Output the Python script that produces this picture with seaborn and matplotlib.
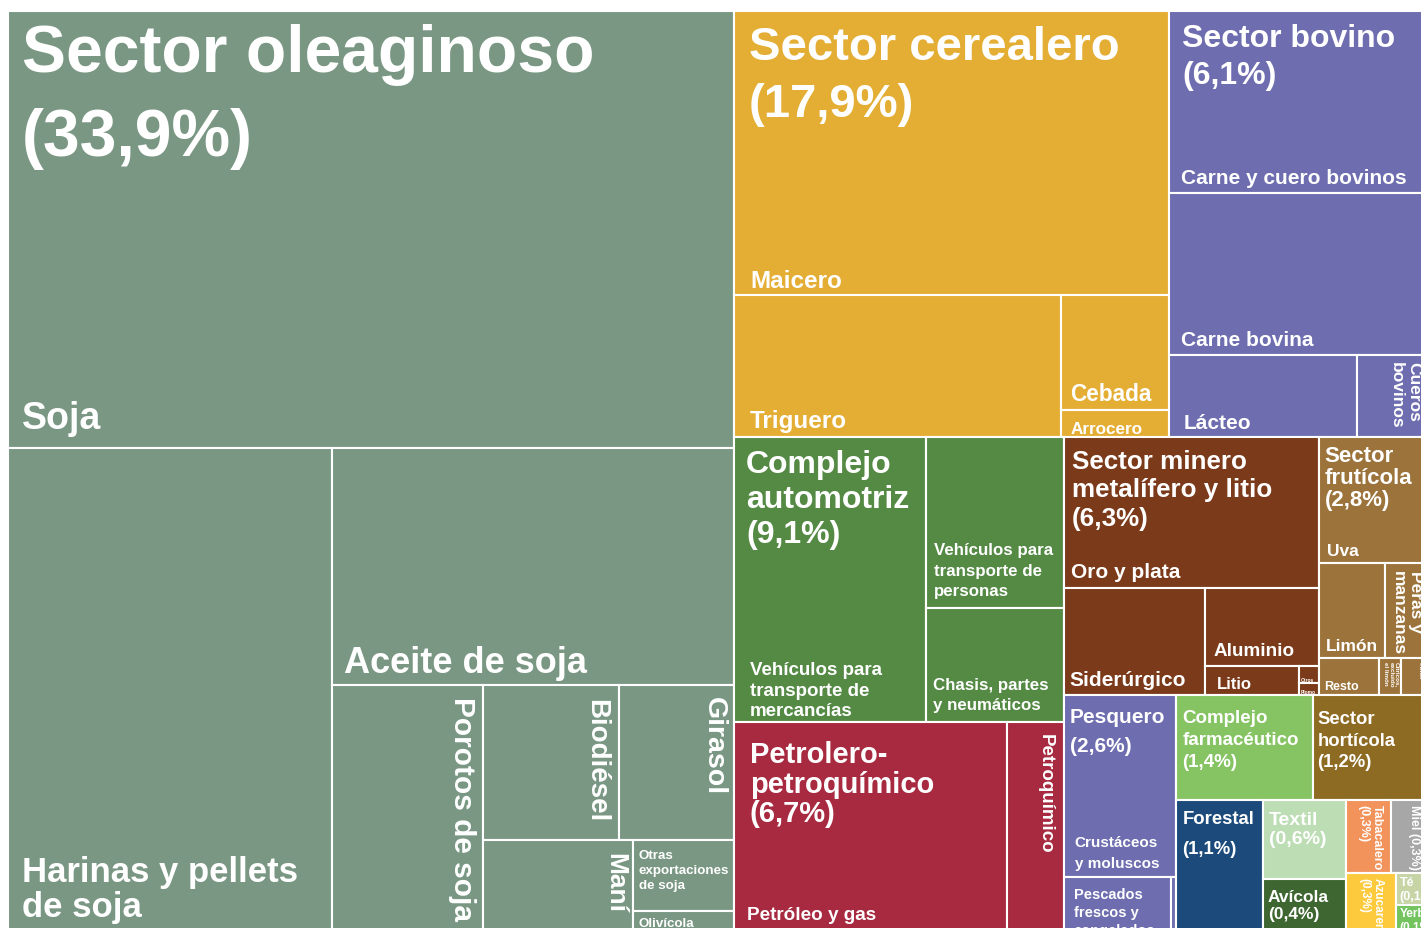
import numpy as np
import pandas as pd
import matplotlib
matplotlib.use('Agg')
import matplotlib.pyplot as plt
import seaborn as sns

# Sectores exportadores: nombre, participación y color
sectores = ['Sector oleaginoso', 'Sector cerealero', 'Sector bovino', 'Complejo automotriz',
            'Petrolero-petroquímico', 'Sector minero metalífero y litio', 'Sector frutícola',
            'Pesquero', 'Complejo farmacéutico', 'Sector hortícola', 'Forestal', 'Textil',
            'Avícola', 'Tabacalero', 'Miel', 'Azucarero', 'Té', 'Yerba']
participacion = ['33,9%', '17,9%', '6,1%', '9,1%', '6,7%', '6,3%', '2,8%', '2,6%', '1,4%',
                 '1,2%', '1,1%', '0,6%', '0,4%', '0,3%', '0,3%', '0,3%', '0,1%', '0,1%']
colores = ['#7A9784', '#E4AD33', '#6E6DAF', '#558A45', '#A72A40', '#7B3A19', '#9C733A',
           '#6E6DAF', '#86C463', '#8E6B22', '#1B4A7B', '#BDDDB4', '#3E6630', '#F2935B',
           '#A7A7A7', '#FCCA3C', '#C6D4A6', '#73C35F']

hojas = ['Soja', 'Harinas y pellets de soja', 'Aceite de soja', 'Porotos de soja', 'Biodiésel',
         'Girasol', 'Maní', 'Otras exportaciones de soja', 'Olivícola',
         'Maicero', 'Triguero', 'Cebada', 'Arrocero',
         'Carne y cuero bovinos', 'Carne bovina', 'Lácteo', 'Cueros bovinos',
         'Vehículos para transporte de mercancías', 'Vehículos para transporte de personas',
         'Chasis, partes y neumáticos',
         'Petróleo y gas', 'Petroquímico',
         'Oro y plata', 'Siderúrgico', 'Aluminio', 'Litio', 'Otros', 'Plomo',
         'Uva', 'Limón', 'Peras y manzanas', 'Resto', 'Cítricos, excluido el limón', 'Otras frutas',
         'Crustáceos y moluscos', 'Pescados frescos y congelados', 'Otros pesqueros',
         'Complejo farmacéutico', 'Sector hortícola', 'Forestal', 'Textil', 'Avícola',
         'Tabacalero', 'Miel', 'Azucarero', 'Té', 'Yerba']
valores = [30.86, 15.22, 9.27, 3.61, 2.05, 1.73, 1.33, 0.70, 0.20,
           12.02, 4.52, 1.21, 0.28,
           4.62, 4.11, 1.50, 0.58,
           5.32, 2.30, 1.53,
           5.55, 1.16,
           3.75, 1.47, 0.86, 0.265, 0.033, 0.023,
           1.36, 0.61, 0.42, 0.22, 0.079, 0.104,
           1.98, 0.56, 0.026,
           1.40, 1.20, 1.11, 0.64, 0.42,
           0.32, 0.28, 0.28, 0.106, 0.086]
sector_hoja = [0] * 9 + [1] * 4 + [2] * 4 + [3] * 3 + [4] * 2 + [5] * 6 + [6] * 6 + [7] * 3 + \
              [8, 9, 10, 11, 12, 13, 14, 15, 16, 17]

# estructura del treemap: 'h' reparte a lo ancho, 'v' reparte a lo alto
arbol = ('h', [
    ('v', ['Soja',
           ('h', ['Harinas y pellets de soja',
                  ('v', ['Aceite de soja',
                         ('h', ['Porotos de soja',
                                ('v', [('h', ['Biodiésel', 'Girasol']),
                                       ('h', ['Maní', ('v', ['Otras exportaciones de soja', 'Olivícola'])])])])])])]),
    ('v', [
        ('h', [
            ('v', ['Maicero', ('h', ['Triguero', ('v', ['Cebada', 'Arrocero'])])]),
            ('v', ['Carne y cuero bovinos', 'Carne bovina', ('h', ['Lácteo', 'Cueros bovinos'])]),
        ]),
        ('h', [
            ('v', [
                ('h', ['Vehículos para transporte de mercancías',
                       ('v', ['Vehículos para transporte de personas', 'Chasis, partes y neumáticos'])]),
                ('h', ['Petróleo y gas', 'Petroquímico']),
            ]),
            ('v', [
                ('h', [
                    ('v', ['Oro y plata',
                           ('h', ['Siderúrgico',
                                  ('v', ['Aluminio', ('h', ['Litio', ('v', ['Otros', 'Plomo'])])])])]),
                    ('v', ['Uva', ('h', ['Limón', 'Peras y manzanas']),
                           ('h', ['Resto', 'Cítricos, excluido el limón', 'Otras frutas'])]),
                ]),
                ('h', [
                    ('v', ['Crustáceos y moluscos', ('h', ['Pescados frescos y congelados', 'Otros pesqueros'])]),
                    ('v', [
                        ('h', ['Complejo farmacéutico', 'Sector hortícola']),
                        ('h', ['Forestal', ('v', ['Textil', 'Avícola']),
                               ('v', [('h', ['Tabacalero', 'Miel']),
                                      ('h', ['Azucarero', ('v', ['Té', 'Yerba'])])])]),
                    ]),
                ]),
            ]),
        ]),
    ]),
])

# rótulos de sector: texto, tamaño, modo, dx, dy, interlineado
rotulo_sector = {
    'Sector oleaginoso': ('Sector oleaginoso\n(33,9%)', 47.5, 'tl', 14, 12, 1.46),
    'Sector cerealero': ('Sector cerealero\n(17,9%)', 34, 'tl', 15, 14, 1.38),
    'Sector bovino': ('Sector bovino\n(6,1%)', 23, 'tl', 13, 12, 1.3),
    'Complejo automotriz': ('Complejo\nautomotriz\n(9,1%)', 23, 'tl', 12, 12, 1.22),
    'Petrolero-petroquímico': ('Petrolero-\npetroquímico\n(6,7%)', 21, 'tl', 16, 18, 1.08),
    'Sector minero metalífero y litio': ('Sector minero\nmetalífero y litio\n(6,3%)', 18.7, 'tl', 8, 12, 1.24),
    'Sector frutícola': ('Sector\nfrutícola\n(2,8%)', 16, 'tl', 6, 8, 1.07),
    'Pesquero': ('Pesquero\n(2,6%)', 15, 'tl', 6, 12, 1.65),
    'Complejo farmacéutico': ('Complejo\nfarmacéutico\n(1,4%)', 13.5, 'tl', 7, 14, 1.4),
    'Sector hortícola': ('Sector\nhortícola\n(1,2%)', 13.3, 'tl', 5, 15, 1.35),
    'Forestal': ('Forestal\n(1,1%)', 13.3, 'tl', 7, 10, 2.0),
    'Textil': ('Textil\n(0,6%)', 14, 'tl', 6, 11, 1.15),
    'Avícola': ('Avícola\n(0,4%)', 12.5, 'tl', 5, 10, 1.15),
    'Tabacalero': ('Tabacalero\n(0,3%)', 9, 'vr', 8, 4, 1.2),
    'Miel': ('Miel (0,3%)', 9, 'vr', 10, 4, 1.2),
    'Azucarero': ('Azucarero\n(0,3%)', 8.5, 'vr', 12, 4, 1.2),
    'Té': ('Té\n(0,1%)', 9, 'tl', 4, 3, 1.2),
    'Yerba': ('Yerba\n(0,1%)', 8.5, 'tl', 4, 2, 1.2),
}

# rótulos de producto
rotulo_hoja = {
    'Soja': ('Soja', 27, 'bl', 14, 12, 1.2),
    'Harinas y pellets de soja': ('Harinas y pellets\nde soja', 25, 'bl', 14, 8, 1.07),
    'Aceite de soja': ('Aceite de soja', 26, 'bl', 12, 5.5, 1.2),
    'Porotos de soja': ('Porotos de soja', 21.5, 'vr', 7, 11, 1.2),
    'Biodiésel': ('Biodiésel', 20, 'vr', 10, 13, 1.2),
    'Girasol': ('Girasol', 20.5, 'vr', 7, 11, 1.2),
    'Maní': ('Maní', 19, 'vr', 5, 12, 1.2),
    'Otras exportaciones de soja': ('Otras\nexportaciones\nde soja', 9.6, 'tl', 6, 9, 1.37),
    'Olivícola': ('Olivícola', 9.6, 'tl', 6, 6, 1.2),
    'Maicero': ('Maicero', 17.5, 'bl', 16, 3, 1.2),
    'Triguero': ('Triguero', 17.5, 'bl', 16, 5, 1.2),
    'Cebada': ('Cebada', 16.3, 'bl', 9, 5, 1.2),
    'Arrocero': ('Arrocero', 12.3, 'bl', 9, 1, 1.2),
    'Carne y cuero bovinos': ('Carne y cuero bovinos', 15, 'bl', 12, 5.6, 1.2),
    'Carne bovina': ('Carne bovina', 15, 'bl', 12, 5.6, 1.2),
    'Lácteo': ('Lácteo', 15, 'bl', 15, 4.6, 1.2),
    'Cueros bovinos': ('Cueros\nbovinos', 12.5, 'vr', 9, 6, 1.2),
    'Vehículos para transporte de mercancías': ('Vehículos para\ntransporte de\nmercancías', 13.5, 'bl', 16, 3, 1.26),
    'Vehículos para transporte de personas': ('Vehículos para\ntransporte de\npersonas', 12.2, 'bl', 8, 10, 1.45),
    'Chasis, partes y neumáticos': ('Chasis, partes\ny neumáticos', 12.2, 'bl', 7, 10, 1.45),
    'Petróleo y gas': ('Petróleo y gas', 13.6, 'bl', 13, 8, 1.2),
    'Petroquímico': ('Petroquímico', 13.5, 'vr', 10, 11, 1.2),
    'Oro y plata': ('Oro y plata', 15, 'bl', 7, 6.6, 1.2),
    'Siderúrgico': ('Siderúrgico', 15, 'bl', 6, 5.6, 1.2),
    'Aluminio': ('Aluminio', 13.6, 'bl', 8, 7, 1.2),
    'Litio': ('Litio', 12, 'bl', 12, 3.5, 1.2),
    'Otros': ('Otros', 3.5, 'bl', 2, 1, 1.2),
    'Plomo': ('Plomo', 3.5, 'bl', 2, 0.5, 1.2),
    'Uva': ('Uva', 12.5, 'bl', 8, 4.5, 1.2),
    'Limón': ('Limón', 12.5, 'bl', 7, 4.5, 1.2),
    'Peras y manzanas': ('Peras y\nmanzanas', 12.5, 'vr', 7, 7, 1.2),
    'Resto': ('Resto', 9, 'bl', 5, 3.3, 1.2),
    'Cítricos, excluido el limón': ('Cítricos,\nexcluido\nel limón', 4.5, 'vr', 2, 3, 1.1),
    'Otras frutas': ('Otras\nfrutas', 4.5, 'vr', 2, 3, 1.1),
    'Crustáceos y moluscos': ('Crustáceos\ny moluscos', 11, 'bl', 11, 6.8, 1.7),
    'Pescados frescos y congelados': ('Pescados\nfrescos y\ncongelados', 10.5, 'tl', 10, 10, 1.35),
}

sns.set_theme(style='white')
plt.rcParams['font.family'] = ['Liberation Sans', 'DejaVu Sans']

valor = dict(zip(hojas, valores))


def total(nodo):
    if isinstance(nodo, str):
        return valor[nodo]
    return sum(total(c) for c in nodo[1])


rects = {}


def partir(nodo, x0, y0, x1, y1):
    # reparte el rectángulo proporcionalmente a los valores de cada rama
    if isinstance(nodo, str):
        rects[nodo] = (x0, y0, x1, y1)
        return
    d, hijos = nodo
    t = total(nodo)
    pos = x0 if d == 'h' else y0
    for c in hijos:
        f = total(c) / t
        if d == 'h':
            w = (x1 - x0) * f
            partir(c, pos, y0, pos + w, y1)
        else:
            w = (y1 - y0) * f
            partir(c, x0, pos, x1, pos + w)
        pos += w


# el treemap original es algo más grande que la captura (se corta a la derecha y abajo)
partir(arbol, 8, 12, 1430, 932)

df = pd.DataFrame({'hoja': hojas, 'valor': valores, 'sector': [sectores[i] for i in sector_hoja],
                   'color': [colores[i] for i in sector_hoja]})
df['x0'] = [rects[h][0] for h in hojas]
df['y0'] = [rects[h][1] for h in hojas]
df['x1'] = [rects[h][2] for h in hojas]
df['y1'] = [rects[h][3] for h in hojas]

fig = plt.figure(figsize=(14.21, 9.29), dpi=100)
ax = fig.add_axes([0, 0, 1, 1])
ax.bar(df['x0'], df['y1'] - df['y0'], width=df['x1'] - df['x0'], bottom=df['y0'], align='edge',
       color=df['color'], edgecolor='white', linewidth=1.5)
ax.set_xlim(0, 1421)
ax.set_ylim(929, 0)
ax.axis('off')


def rotular(r, texto, size, modo, dx, dy, ls):
    x0, y0, x1, y1 = r
    kw = dict(color='white', fontsize=size, fontweight='bold', linespacing=ls, clip_on=False)
    if modo == 'tl':
        ax.text(x0 + dx, y0 + dy, texto, ha='left', va='top', **kw)
    elif modo == 'bl':
        ax.text(x0 + dx, y1 - dy, texto, ha='left', va='bottom', **kw)
    else:
        ax.text(x1 - dx, y0 + dy, texto, ha='left', va='top', rotation=-90,
                rotation_mode='anchor', **kw)


for s in sectores:
    sub = df[df['sector'] == s]
    caja = (sub['x0'].min(), sub['y0'].min(), sub['x1'].max(), sub['y1'].max())
    rotular(caja, *rotulo_sector[s])

for h in hojas:
    if h in rotulo_hoja:
        rotular(rects[h], *rotulo_hoja[h])

plt.savefig('out.png', dpi=100, facecolor='white')
